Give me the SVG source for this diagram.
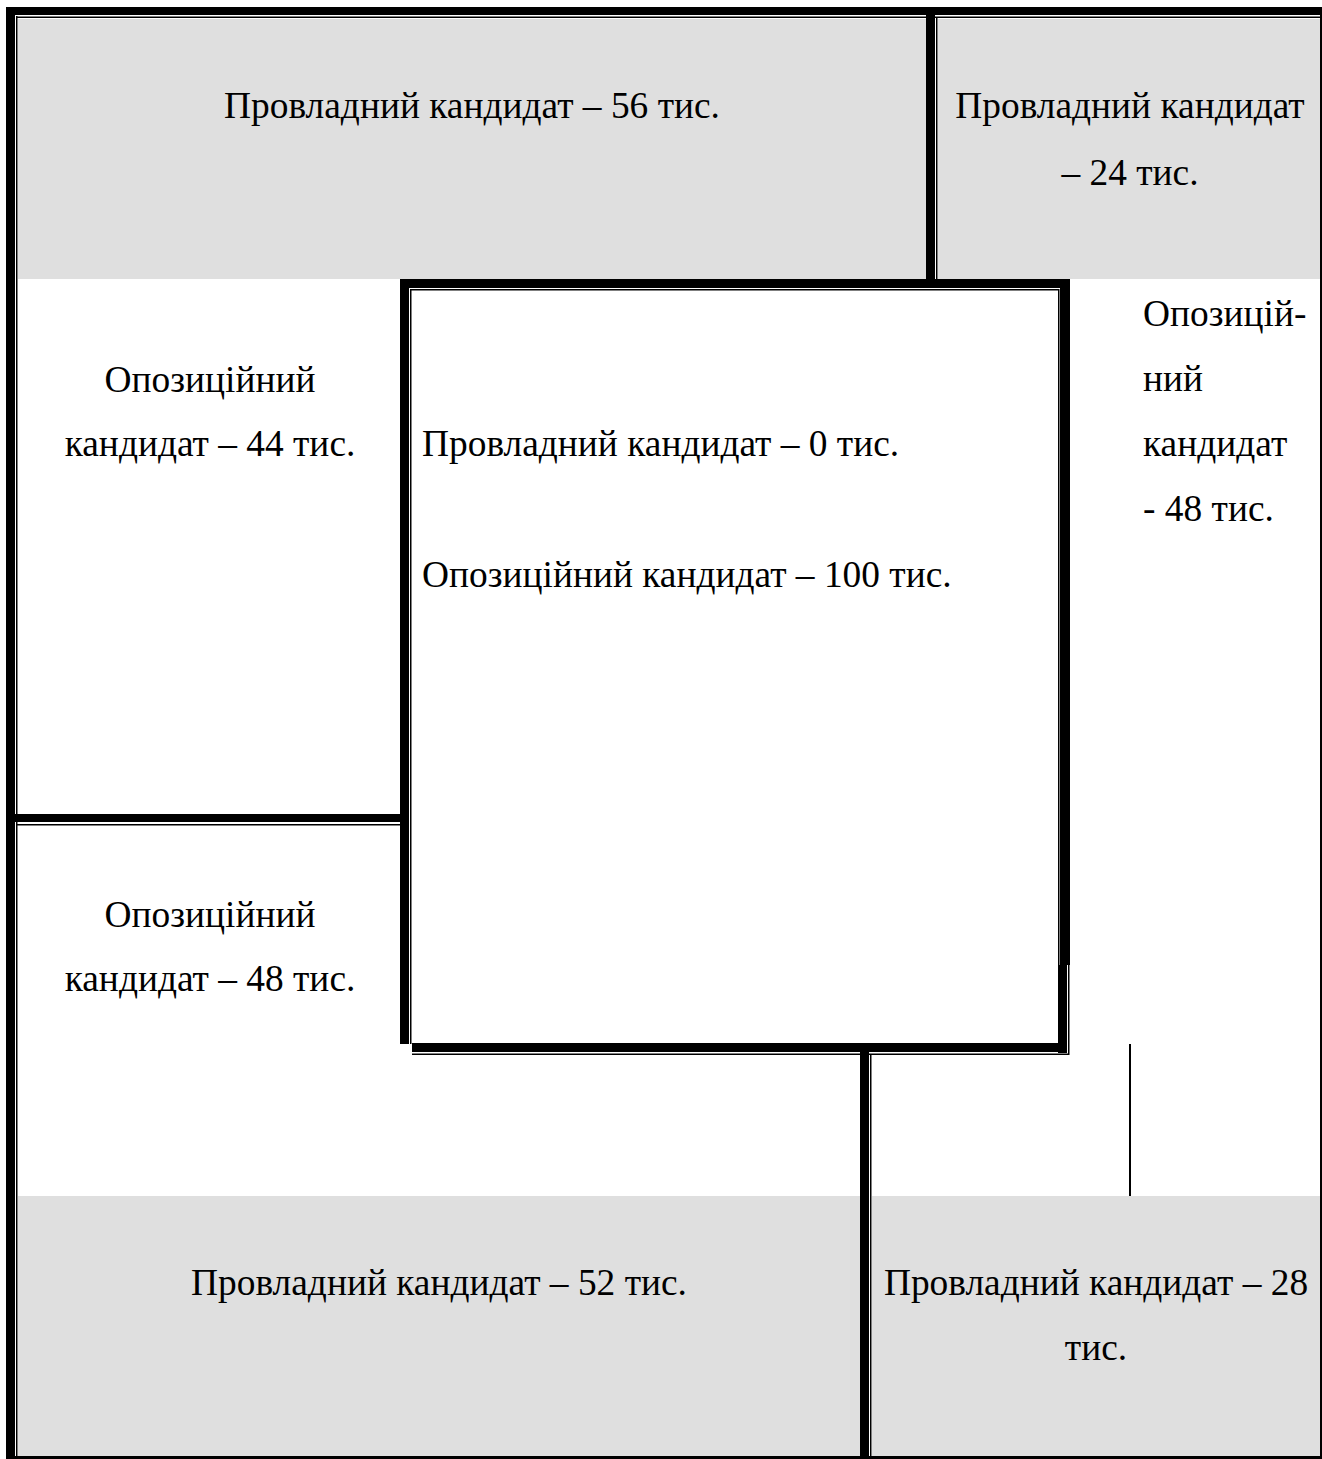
<svg xmlns="http://www.w3.org/2000/svg" width="1322" height="1459" viewBox="0 0 1322 1459">
<style>
.g{fill:#dfdfdf}
.k{fill:#000}
text{font-family:"Liberation Serif","Times New Roman",serif;font-size:37.4px;fill:#000}
.c{text-anchor:middle}
</style>
<rect x="0" y="0" width="1322" height="1459" fill="#fff"/>
<g id="regions">
<rect class="g" x="18" y="19" width="908" height="260"/>
<rect class="g" x="938" y="19" width="382" height="260"/>
<rect class="g" x="18" y="1196" width="842" height="260"/>
<rect class="g" x="872" y="1196" width="448" height="260"/>
</g>
<g id="connectors">
<rect class="k" x="6" y="7" width="9" height="1452"/>
<rect class="k" x="6" y="7" width="1316" height="8"/>
<rect class="k" x="16" y="16" width="1.5" height="1440"/>
<rect class="k" x="16" y="16.5" width="1304" height="1.5"/>
<rect class="k" x="1320" y="15" width="2" height="1444"/>
<rect class="k" x="6" y="1456" width="1316" height="3"/>
<rect class="k" x="926" y="15" width="9" height="264"/>
<rect class="k" x="936" y="17" width="1.5" height="262"/>
<rect class="k" x="400" y="279" width="670" height="9"/>
<rect class="k" x="400" y="279" width="9" height="765"/>
<rect class="k" x="410" y="289" width="1.5" height="755"/>
<rect class="k" x="410" y="289" width="648" height="1.5"/>
<rect class="k" x="1060" y="279" width="10" height="686"/>
<rect class="k" x="1058" y="289" width="1.5" height="676"/>
<rect class="k" x="1058" y="965" width="9" height="88"/>
<rect class="k" x="1068" y="965" width="1.5" height="90"/>
<rect class="k" x="412" y="1043" width="655" height="9"/>
<rect class="k" x="412" y="1053.5" width="657" height="1.5"/>
<rect class="k" x="15" y="814" width="394" height="8"/>
<rect class="k" x="17" y="824" width="392" height="1.5"/>
<rect class="k" x="860" y="1052" width="9" height="1404"/>
<rect class="k" x="870" y="1054" width="1.5" height="402"/>
<rect class="k" x="1129" y="1044" width="2" height="152"/>
</g>
<g id="n1"><text class="c" x="472" y="118">Провладний кандидат – 56 тис.</text></g>
<g id="n2"><text class="c" x="1130" y="118">Провладний кандидат</text><text class="c" x="1130" y="185">– 24 тис.</text></g>
<g id="n3"><text class="c" x="210" y="392">Опозиційний</text><text class="c" x="210" y="456">кандидат – 44 тис.</text></g>
<g id="n4"><text x="422" y="456">Провладний кандидат – 0 тис.</text><text x="422" y="587">Опозиційний кандидат – 100 тис.</text></g>
<g id="n5"><text x="1143" y="326">Опозицій-</text><text x="1143" y="391">ний</text><text x="1143" y="456">кандидат</text><text x="1143" y="521">- 48 тис.</text></g>
<g id="n6"><text class="c" x="210" y="927">Опозиційний</text><text class="c" x="210" y="991">кандидат – 48 тис.</text></g>
<g id="n7"><text class="c" x="439" y="1295">Провладний кандидат – 52 тис.</text></g>
<g id="n8"><text class="c" x="1096" y="1295">Провладний кандидат – 28</text><text class="c" x="1096" y="1360">тис.</text></g>
</svg>
